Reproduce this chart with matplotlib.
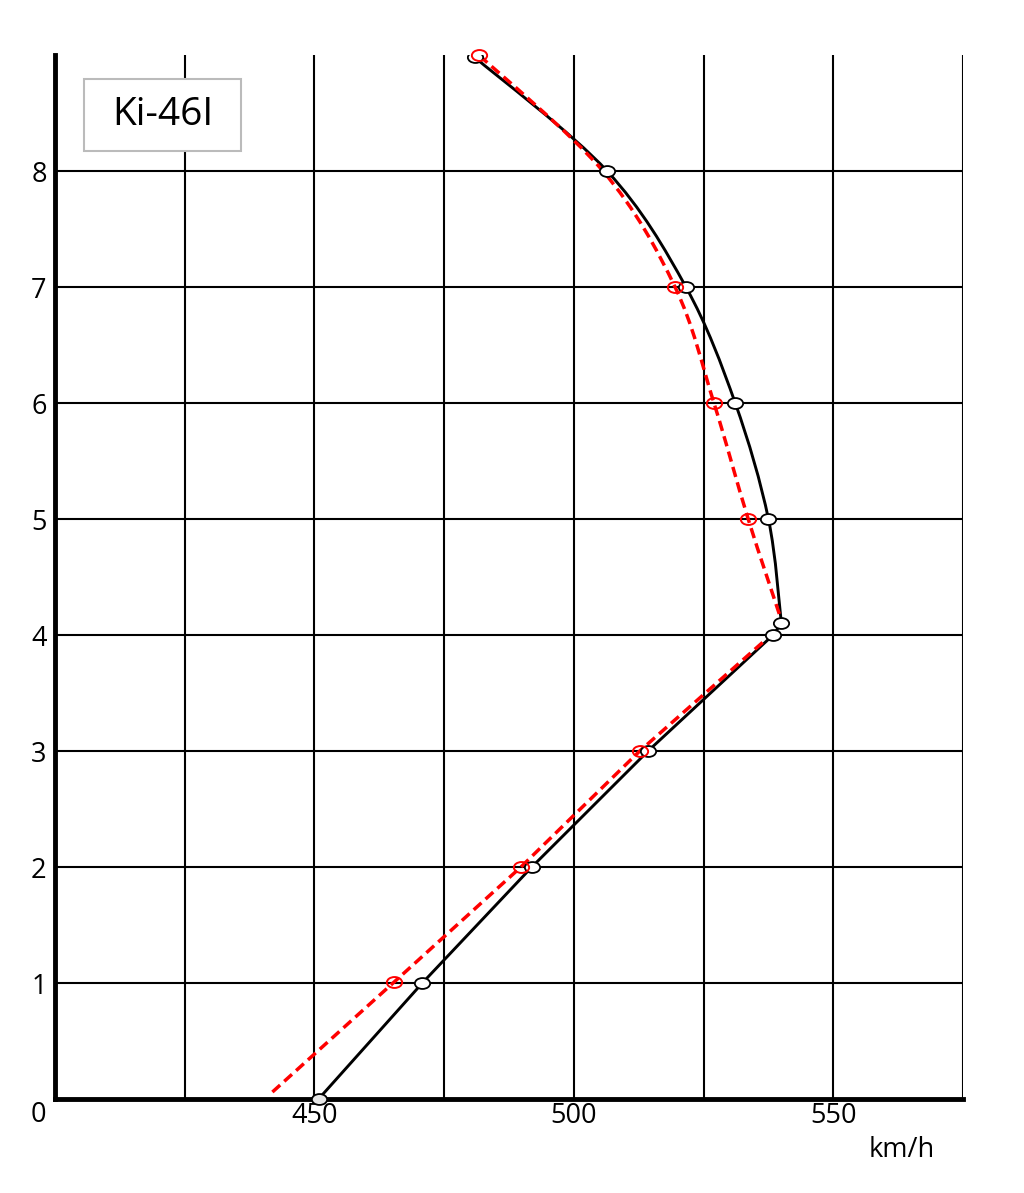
import matplotlib
matplotlib.use("Agg")
import matplotlib.pyplot as plt
from matplotlib.path import Path
from matplotlib.transforms import Affine2D
from matplotlib.markers import MarkerStyle
from matplotlib.patches import Rectangle, PathPatch

plt.rcParams['font.family'] = ['Open Sans', 'DejaVu Sans']

# Data: altitude (km) vs speed (km/h)
black_speed = [450.8, 470.8, 491.9, 514.3, 538.4, 540.0, 537.5, 531.1, 521.6, 506.4, 480.9]
black_alt = [0.0, 1.0, 2.0, 3.0, 4.0, 4.1, 5.0, 6.0, 7.0, 8.0, 8.98]
black_smooth_from = 5  # index where the curved (smoothed) part begins

red_line_speed = [441.9, 465.4, 489.8, 512.7, 538.0, 540.2, 533.6, 527.0, 519.5, 505.6, 481.7]
red_line_alt = [0.06, 1.01, 2.0, 3.0, 4.0, 4.1, 5.0, 6.0, 7.0, 8.0, 9.0]
red_smooth_from = 5
red_mark_speed = [465.4, 489.8, 512.7, 533.6, 527.0, 519.5, 481.7]
red_mark_alt = [1.01, 2.0, 3.0, 5.0, 6.0, 7.0, 9.0]

x_grid = [425, 450, 475, 500, 525, 550, 575]
y_grid = [1, 2, 3, 4, 5, 6, 7, 8]
x_labels = [450, 500, 550]
title_text = "Ki-46I"


def curve_path(xs, ys, smooth_from):
    """Straight segments up to smooth_from, then a Catmull-Rom style Bezier
    through the remaining measured points (drawn by matplotlib's Path)."""
    verts = [(xs[0], ys[0])]
    codes = [Path.MOVETO]
    for i in range(1, smooth_from + 1):
        verts.append((xs[i], ys[i]))
        codes.append(Path.LINETO)
    pts = list(zip(xs, ys))
    n = len(pts)
    for i in range(smooth_from, n - 1):
        p0 = pts[i - 1] if i - 1 >= smooth_from else pts[i]
        p1 = pts[i]
        p2 = pts[i + 1]
        p3 = pts[i + 2] if i + 2 < n else pts[i + 1]
        c1 = (p1[0] + (p2[0] - p0[0]) / 6.0, p1[1] + (p2[1] - p0[1]) / 6.0)
        c2 = (p2[0] - (p3[0] - p1[0]) / 6.0, p2[1] - (p3[1] - p1[1]) / 6.0)
        verts += [c1, c2, p2]
        codes += [Path.CURVE4, Path.CURVE4, Path.CURVE4]
    return Path(verts, codes)


W, H = 1024, 1193
fig = plt.figure(figsize=(W / 100, H / 100), dpi=100)
ax = fig.add_axes([55 / W, 1 - 1099 / H, (963 - 55) / W, (1099 - 55) / H])
ax.set_xlim(400, 575)
ax.set_ylim(0, 9)

# grid
for gx in x_grid:
    ax.plot([gx, gx], [0, 9], color='black', lw=1.5, zorder=1, solid_capstyle='butt')
for gy in y_grid:
    ax.plot([400, 575], [gy, gy], color='black', lw=1.5, zorder=1, solid_capstyle='butt')

for s in ['top', 'right']:
    ax.spines[s].set_visible(False)
for s in ['left', 'bottom']:
    ax.spines[s].set_linewidth(3.5)
    ax.spines[s].set_color('black')
    ax.spines[s].set_zorder(5)

ell = MarkerStyle(Path.unit_circle().transformed(Affine2D().scale(1.4, 1.0)))

ax.add_patch(PathPatch(curve_path(black_speed, black_alt, black_smooth_from),
                       facecolor='none', edgecolor='black', lw=2.1, zorder=3,
                       joinstyle='round', capstyle='round'))
ax.plot(black_speed[1:], black_alt[1:], ls='none', marker=ell, ms=11, mfc='white',
        mec='black', mew=1.3, zorder=4)
ax.plot(black_speed[:1], black_alt[:1], ls='none', marker=ell, ms=11, mfc='#e6e6e6',
        mec='black', mew=1.3, zorder=6, clip_on=False)

ax.add_patch(PathPatch(curve_path(red_line_speed, red_line_alt, red_smooth_from),
                       facecolor='none', edgecolor='#ff0000', lw=2.5,
                       linestyle=(0, (3, 1.6)), zorder=3))
ax.plot(red_mark_speed, red_mark_alt, ls='none', marker=ell, ms=11, mfc='none',
        mec='#ff0000', mew=1.4, zorder=4, clip_on=False)

ax.set_xticks(x_labels)
ax.set_xticklabels([str(v) for v in x_labels])
ax.set_yticks(y_grid)
ax.set_yticklabels([str(v) for v in y_grid])
ax.tick_params(axis='both', length=0, labelsize=19.5)
ax.tick_params(axis='y', pad=6)
ax.tick_params(axis='x', pad=2)
fig.text(38 / W, 1 - 1115 / H, "0", fontsize=19.5, ha='center', va='center')
fig.text(902 / W, 1 - 1150 / H, "km/h", fontsize=19.5, ha='center', va='center')

# title box
ax.add_patch(Rectangle((405.6, 8.17), 30.3, 0.62, facecolor='white',
                       edgecolor='#bbbbbb', lw=1.5, zorder=6))
ax.text(420.7, 8.48, title_text, fontsize=28, ha='center', va='center', zorder=7)

fig.savefig("out.png", dpi=100)
